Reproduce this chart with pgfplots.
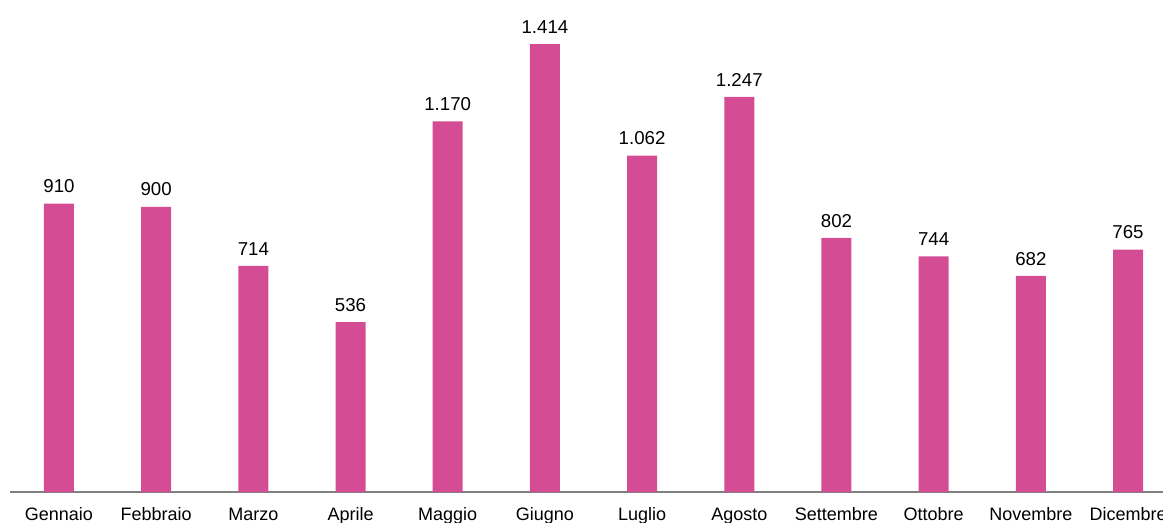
\documentclass[border=0pt]{standalone}
\usepackage{fontspec}
\setmainfont{Liberation Sans}
\usepackage{pgfplots}
\pgfplotsset{compat=1.18}
\definecolor{barpink}{RGB}{212,77,148}
\definecolor{axgray}{RGB}{128,128,128}
\begin{document}
\begin{tikzpicture}
\begin{axis}[
  name=ax,
  scale only axis,
  width=864.75pt, height=369pt,
  xmin=-0.504, xmax=11.36,
  ymin=0, ymax=1553,
  axis x line*=bottom,
  axis y line=none,
  x axis line style={draw=axgray, line width=1.1pt},
  major tick length=0pt,
  xtick=data,
  xticklabels={Gennaio,Febbraio,Marzo,Aprile,Maggio,Giugno,Luglio,Agosto,Settembre,Ottobre,Novembre,Dicembre},
  xticklabel style={font=\fontsize{13.5}{15}\selectfont, text=black, text height=0.75em, text depth=0.25em, yshift=-10pt},
  ybar,
  bar width=22.5pt,
  clip=false,
  nodes near coords,
  nodes near coords style={font=\fontsize{14}{16}\selectfont, text=black, yshift=4.5pt},
  /pgf/number format/assume math mode=true,
  /pgf/number format/1000 sep={.},
]
\addplot[fill=barpink, draw=none] coordinates {
(0,910) (1,900) (2,714) (3,536) (4,1170) (5,1414) (6,1062) (7,1247) (8,802) (9,744) (10,682) (11,765)
};
\end{axis}
\pgfresetboundingbox
\path[use as bounding box] ([xshift=-7.5pt,yshift=-22.5pt]ax.south west) rectangle (ax.north east);
\end{tikzpicture}
\end{document}
